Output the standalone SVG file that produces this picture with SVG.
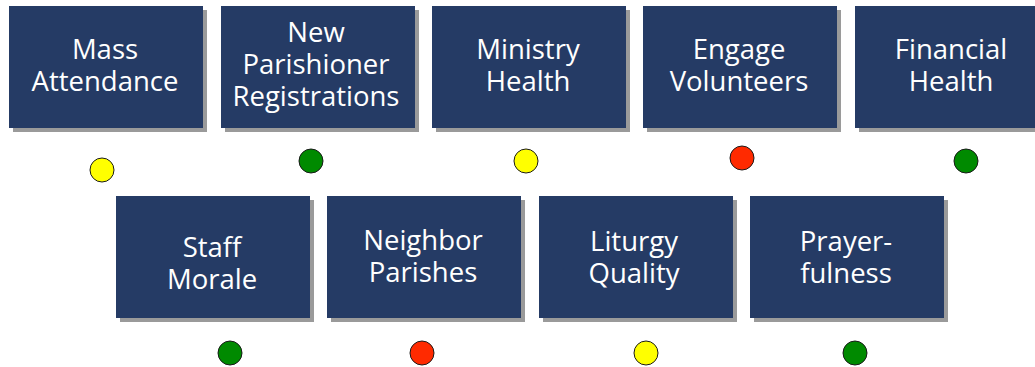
<svg xmlns="http://www.w3.org/2000/svg" width="1035" height="367" viewBox="0 0 1035 367">
<defs>
<style>
.box{fill:#253b65}
.sh{fill:#9a9a9a}
.t{font-family:"Open Sans","Noto Sans","Liberation Sans",sans-serif;font-size:27.5px;fill:#ffffff;text-anchor:middle}
.c{stroke:#1a1a1a;stroke-width:1}
.y{fill:#ffff00}.g{fill:#008a00}.r{fill:#ff2a00}
</style>
</defs>
<rect width="1035" height="367" fill="#ffffff"/>
<g id="n1"><rect class="sh" x="13" y="10" width="194" height="122"/><rect class="box" x="9" y="6" width="194" height="122"/><text class="t" x="105" y="59">Mass</text><text class="t" x="105" y="91">Attendance</text></g>
<g id="n2"><rect class="sh" x="225" y="10" width="194" height="122"/><rect class="box" x="221" y="6" width="194" height="122"/><text class="t" x="316" y="42">New</text><text class="t" x="316" y="74">Parishioner</text><text class="t" x="316" y="106">Registrations</text></g>
<g id="n3"><rect class="sh" x="436" y="10" width="194" height="122"/><rect class="box" x="432" y="6" width="194" height="122"/><text class="t" x="528" y="59">Ministry</text><text class="t" x="528" y="91">Health</text></g>
<g id="n4"><rect class="sh" x="647" y="10" width="194" height="122"/><rect class="box" x="643" y="6" width="194" height="122"/><text class="t" x="739" y="59">Engage</text><text class="t" x="739" y="91">Volunteers</text></g>
<g id="n5"><rect class="sh" x="859" y="10" width="194" height="122"/><rect class="box" x="855" y="6" width="194" height="122"/><text class="t" x="951" y="59">Financial</text><text class="t" x="951" y="91">Health</text></g>
<g id="n6"><rect class="sh" x="120" y="200" width="194" height="122"/><rect class="box" x="116" y="196" width="194" height="122"/><text class="t" x="212" y="257">Staff</text><text class="t" x="212" y="289">Morale</text></g>
<g id="n7"><rect class="sh" x="331" y="200" width="194" height="122"/><rect class="box" x="327" y="196" width="194" height="122"/><text class="t" x="423" y="250">Neighbor</text><text class="t" x="423" y="282">Parishes</text></g>
<g id="n8"><rect class="sh" x="543" y="200" width="194" height="122"/><rect class="box" x="539" y="196" width="194" height="122"/><text class="t" x="634" y="251">Liturgy</text><text class="t" x="634" y="283">Quality</text></g>
<g id="n9"><rect class="sh" x="754" y="200" width="194" height="122"/><rect class="box" x="750" y="196" width="194" height="122"/><text class="t" x="846" y="251">Prayer-</text><text class="t" x="846" y="283">fulness</text></g>
<g id="indicators">
<circle class="c y" cx="102" cy="170" r="12"/>
<circle class="c g" cx="311" cy="161" r="12"/>
<circle class="c y" cx="526" cy="161" r="12"/>
<circle class="c r" cx="742" cy="158" r="12"/>
<circle class="c g" cx="966" cy="161" r="12"/>
<circle class="c g" cx="230" cy="353" r="12"/>
<circle class="c r" cx="422" cy="353" r="12"/>
<circle class="c y" cx="646" cy="353" r="12"/>
<circle class="c g" cx="855" cy="353" r="12"/>
</g>
<g id="connectors"/>
</svg>
